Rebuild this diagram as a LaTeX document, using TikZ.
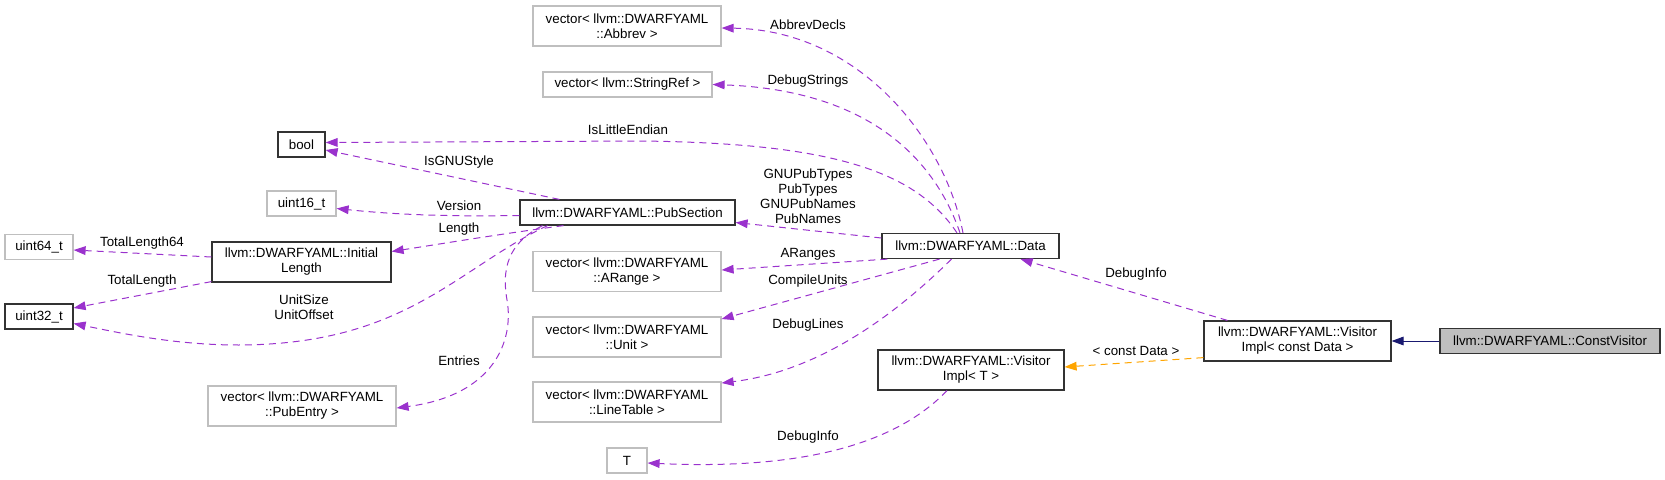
\documentclass[tikz,border=0pt]{standalone}
\usepackage{fontspec}
\setmainfont{Liberation Sans}
\usetikzlibrary{arrows.meta, calc}
\definecolor{cmember}{RGB}{154,50,205}
\definecolor{ctempl}{RGB}{255,165,0}
\definecolor{cinherit}{RGB}{25,25,112}
\definecolor{cframe}{RGB}{191,191,191}

\begin{document}
\begin{tikzpicture}[
  x=0.75pt, y=-0.75pt,
  font=\fontsize{10}{11.25}\selectfont,
  cls/.style={draw=black!80, line width=0.9pt, fill=white, inner sep=0pt,
    minimum height=18.75pt, align=center},
  ext/.style={cls, draw=cframe},
  cur/.style={cls, fill=cframe},
  tall/.style={minimum height=30pt},
  mem/.style={draw=cmember, line width=0.75pt, dash pattern=on 5.25pt off 3.75pt,
    -{Triangle[length=9pt, width=6.5pt]}},
  tpl/.style={mem, draw=ctempl},
  inh/.style={draw=cinherit, line width=0.75pt, -{Triangle[length=9pt, width=6.5pt]}},
  lab/.style={inner sep=0pt, align=center},
]
\useasboundingbox (0,0) rectangle (1665,479);

\node[ext, tall, minimum width=141pt] (abbrev) at (627,26) {vector< llvm::DWARFYAML\\::Abbrev >};
\node[ext, minimum width=126.75pt] (strref) at (627.5,84.5) {vector< llvm::StringRef >};
\node[cls, minimum width=35.25pt] (bool) at (301.5,144.5) {bool};
\node[ext, minimum width=51.75pt] (u16) at (301.5,203.5) {uint16\_t};
\node[cls, minimum width=161.25pt] (pubsec) at (627.5,212.5) {llvm::DWARFYAML::PubSection};
\node[ext, minimum width=51pt] (u64) at (39,247) {uint64\_t};
\node[cls, tall, minimum width=134.25pt] (initlen) at (301.5,262) {llvm::DWARFYAML::Initial\\Length};
\node[cls, minimum width=51pt] (u32) at (39,316.5) {uint32\_t};
\node[ext, tall, minimum width=141pt] (pubentry) at (302,406) {vector< llvm::DWARFYAML\\::PubEntry >};
\node[cls, minimum width=132.75pt] (data) at (970.5,246) {llvm::DWARFYAML::Data};
\node[ext, tall, minimum width=141pt] (arange) at (627,271.5) {vector< llvm::DWARFYAML\\::ARange >};
\node[ext, tall, minimum width=141pt] (unit) at (627,337) {vector< llvm::DWARFYAML\\::Unit >};
\node[ext, tall, minimum width=141pt] (linetab) at (627,402) {vector< llvm::DWARFYAML\\::LineTable >};
\node[ext, minimum width=30pt] (tparam) at (627,460.5) {T};
\node[cls, tall, minimum width=139.5pt] (vist) at (971,370) {llvm::DWARFYAML::Visitor\\Impl< T >};
\node[cls, tall, minimum width=140.25pt] (visdata) at (1297.5,341) {llvm::DWARFYAML::Visitor\\Impl< const Data >};
\node[cur, minimum width=165pt] (constvis) at (1550,341) {llvm::DWARFYAML::ConstVisitor};

\draw[mem] ($(data.north)+(-7.5,0)$) .. controls (945,140) and (860,30) .. ($(abbrev.east)+(0,2)$);
\draw[mem] ($(data.north)+(-10.5,0)$) .. controls (935,160) and (870,90) .. (strref.east);
\draw[mem] ($(data.north)+(-13.5,0)$) .. controls (915,170) and (830,143) .. (640,141)
  -- ($(bool.east)+(0,-2)$);
\draw[mem] ($(pubsec.north west)+(40,0)$) -- ($(bool.east)+(0,5.5)$);
\draw[mem] ($(pubsec.west)+(0,3)$) .. controls (430,217) and (380,213) .. ($(u16.east)+(0,5)$);
\draw[mem] ($(pubsec.south)+(-64,0)$) .. controls (500,234) and (440,244) .. ($(initlen.east)+(0,-10.5)$);
\draw[mem] ($(pubsec.south)+(-80,0)$) .. controls (470,262) and (420,325) .. (300,341)
  .. controls (210,353) and (130,335) .. ($(u32.east)+(0,7)$);
\draw[mem] ($(pubsec.south)+(-85,0)$) .. controls (515,240) and (500,260) .. (507,300)
  .. controls (514,340) and (495,395) .. ($(pubentry.east)+(0,2)$);
\draw[mem] ($(initlen.west)+(0,-5)$) -- ($(u64.east)+(0,3)$);
\draw[mem] ($(initlen.south west)+(0,-1)$) -- ($(u32.east)+(0,-8.5)$);
\draw[mem] ($(data.west)+(0,-8)$) -- ($(pubsec.east)+(0,10)$);
\draw[mem] ($(data.south west)+(6,0)$) -- ($(arange.east)+(0,-1.5)$);
\draw[mem] ($(data.south)+(-31,0)$) -- ($(unit.east)+(0,-18)$);
\draw[mem] ($(data.south)+(-19,0)$) .. controls (910,300) and (830,370) .. ($(linetab.east)+(0,-19)$);
\draw[mem] ($(vist.south)+(-24,0)$) .. controls (895,445) and (800,470) .. ($(tparam.east)+(0,2.5)$);
\draw[mem] ($(visdata.north west)+(24,0)$) -- ($(data.south east)+(-39,0)$);
\draw[tpl] ($(visdata.south west)+(0,-4)$) -- ($(vist.east)+(0,-3)$);
\draw[inh] (constvis.west) -- (visdata.east);

\node[lab] (lAbbrev) at (808,25) {AbbrevDecls};
\node[lab] (lStrings) at (808,81) {DebugStrings};
\node[lab] (lEndian) at (628,130) {IsLittleEndian};
\node[lab] (lGnu) at (459,162) {IsGNUStyle};
\node[lab] (lPub) at (808,196) {GNUPubTypes\\PubTypes\\GNUPubNames\\PubNames};
\node[lab] (lVersion) at (459,206) {Version};
\node[lab] (lLength) at (459,229) {Length};
\node[lab] (lTot64) at (142,243) {TotalLength64};
\node[lab] (lTot) at (142,281) {TotalLength};
\node[lab] (lUnit) at (304,307) {UnitSize\\UnitOffset};
\node[lab] (lEntries) at (459,361) {Entries};
\node[lab] (lARanges) at (808,254) {ARanges};
\node[lab] (lCU) at (808,281) {CompileUnits};
\node[lab] (lLines) at (808,325) {DebugLines};
\node[lab] (lInfoT) at (808,437) {DebugInfo};
\node[lab] (lInfo) at (1136,274) {DebugInfo};
\node[lab] (lConst) at (1136,351) {< const Data >};
\end{tikzpicture}
\end{document}
